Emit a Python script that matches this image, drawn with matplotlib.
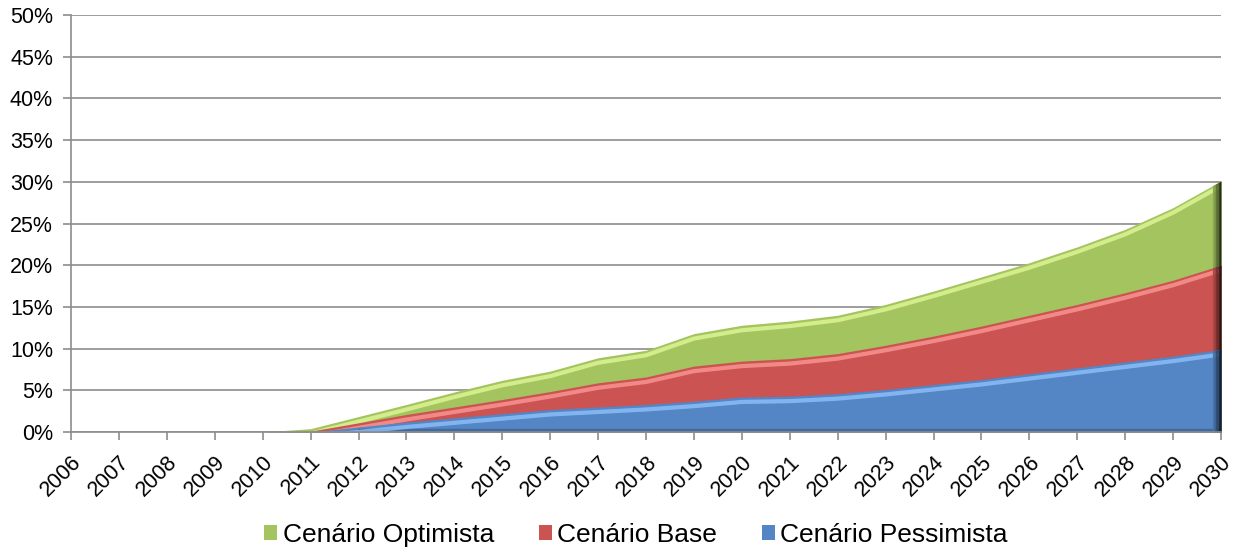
import matplotlib
matplotlib.use("Agg")
import numpy as np
import matplotlib.pyplot as plt
import matplotlib.transforms as mtransforms
from matplotlib.patches import Patch
from matplotlib.colors import to_rgb
from matplotlib.ticker import FuncFormatter

plt.rcParams['font.family'] = ['Liberation Sans', 'DejaVu Sans']

years = list(range(2006, 2031))
optimista = [0, 0, 0, 0, 0, 0.4, 1.85, 3.3, 4.8, 6.2, 7.3, 8.9, 9.8, 11.8, 12.8,
             13.3, 14.0, 15.3, 16.9, 18.6, 20.3, 22.2, 24.3, 26.9, 30.1]
base = [0, 0, 0, 0, 0, 0.1, 1.1, 2.1, 3.0, 3.9, 4.85, 5.9, 6.6, 7.9, 8.5,
        8.8, 9.4, 10.4, 11.5, 12.7, 14.0, 15.3, 16.7, 18.2, 20.0]
pessimista = [0, 0, 0, 0, 0, 0, 0.6, 1.2, 1.7, 2.2, 2.7, 3.0, 3.3, 3.7, 4.2,
              4.3, 4.6, 5.1, 5.7, 6.3, 7.0, 7.7, 8.4, 9.1, 9.9]
series_names = ['Cenário Optimista', 'Cenário Base', 'Cenário Pessimista']

fills = ['#A3C45E', '#CB5351', '#5486C6']
highlights = ['#E4FA9C', '#FF9C99', '#92C6FF']

fig = plt.figure(figsize=(12.34, 5.5), dpi=100)
ax = fig.add_axes([71/1234, 1-432/550, (1221-71)/1234, (432-15)/550])

x_arr = np.array(years, dtype=float)
for k, (vals, fc, hc) in enumerate(zip([optimista, base, pessimista], fills, highlights)):
    z = 2 + 2 * k
    v = np.array(vals, dtype=float)
    ax.fill_between(x_arr, 0, v, color=fc, linewidth=0, zorder=z)
    off = mtransforms.offset_copy(ax.transData, fig=fig, x=0, y=-5, units='dots')
    ax.plot(x_arr, v, color=hc, lw=3, alpha=0.75, transform=off, zorder=z + 0.5,
            solid_capstyle='butt')
    # right-edge bevel shading
    base_rgb = np.array(to_rgb(fc))
    nstrip = 6
    xs_edges = np.linspace(x_arr[-1] - 0.18, x_arr[-1], nstrip + 1)
    for i in range(nstrip):
        xs = np.linspace(xs_edges[i], xs_edges[i + 1], 3)
        ys = np.interp(xs, x_arr, v)
        f = 1 - 0.8 * (i + 1) / nstrip
        ax.fill_between(xs, 0, ys, color=base_rgb * f, linewidth=0, zorder=z + 0.6)

# dark bottom bevel on front series
pv = np.array(pessimista, dtype=float)
start = int(np.argmax(pv > 0))
off_up = mtransforms.offset_copy(ax.transData, fig=fig, x=0, y=2, units='dots')
ax.plot(x_arr[start:], np.zeros_like(x_arr[start:]), color='#3A5F8E', lw=2.5,
        transform=off_up, zorder=6.4, alpha=0.7)

ax.set_xlim(2006, 2030)
ax.set_ylim(0, 50)
ax.set_yticks(range(0, 51, 5))
ax.yaxis.set_major_formatter(FuncFormatter(lambda v, p: f"{int(v)}%"))
ax.set_xticks(years)
ax.set_xticklabels([str(y) for y in years], rotation=45, ha='right',
                   rotation_mode='anchor')
ax.grid(axis='y', color='#8C8C8C', linewidth=1.2, zorder=0)
ax.set_axisbelow(True)
for s in ['top', 'right']:
    ax.spines[s].set_visible(False)
for s in ['left', 'bottom']:
    ax.spines[s].set_color('#8C8C8C')
    ax.spines[s].set_linewidth(1.2)
    ax.spines[s].set_zorder(10)
ax.tick_params(axis='both', colors='#8C8C8C', labelcolor='black', labelsize=15.5,
               length=6, width=1.2)
ax.tick_params(axis='y', pad=7)
ax.tick_params(axis='x', pad=8)

handles = [Patch(facecolor=c, edgecolor='none') for c in fills]
fig.legend(handles, series_names, loc='center', bbox_to_anchor=(636/1234, 1-535/550),
           ncol=3, frameon=False, fontsize=19, handlelength=0.5, handleheight=0.5,
           handletextpad=0.2, columnspacing=1.7)

fig.savefig('out.png', dpi=100)
